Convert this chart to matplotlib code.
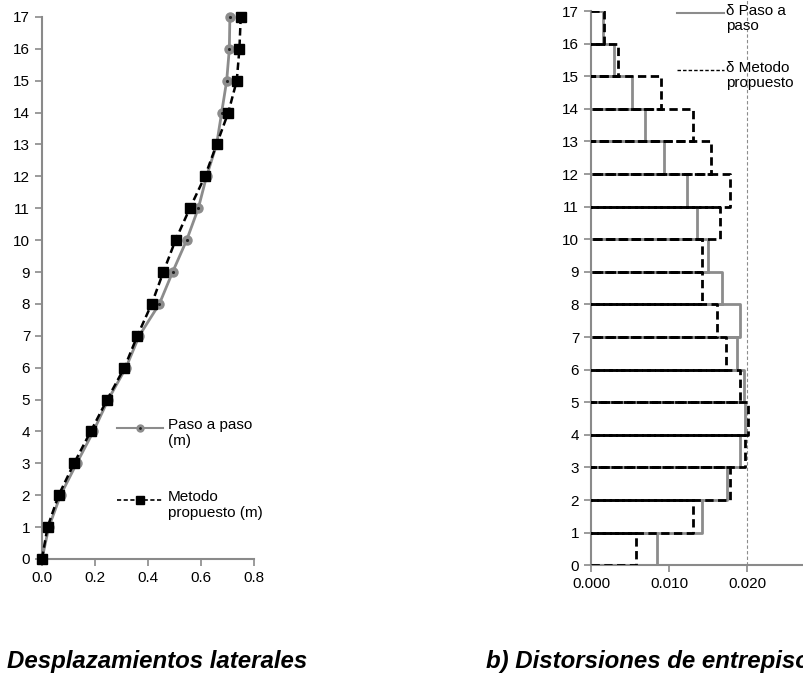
import numpy as np
import matplotlib
matplotlib.use("Agg")
import matplotlib.pyplot as plt

plt.rcParams['font.family'] = ['Liberation Sans', 'DejaVu Sans']

# niveles de piso
niveles = list(range(18))

# desplazamientos laterales (m)
desp_paso = [0.0, 0.026, 0.070, 0.131, 0.194, 0.250, 0.317, 0.367, 0.443,
             0.493, 0.546, 0.590, 0.621, 0.659, 0.678, 0.697, 0.707, 0.709]
desp_metodo = [0.0, 0.021, 0.063, 0.121, 0.184, 0.246, 0.311, 0.360, 0.414,
               0.458, 0.504, 0.558, 0.615, 0.659, 0.703, 0.735, 0.745, 0.750]

# distorsiones de entrepiso, entrepiso i va del nivel i al i+1
dist_paso = [0.0084, 0.0142, 0.0174, 0.0190, 0.0197, 0.0196, 0.0187, 0.0190,
             0.0168, 0.0150, 0.0136, 0.0123, 0.0093, 0.0069, 0.0053, 0.0029,
             0.0015]
dist_metodo = [0.0058, 0.0130, 0.0178, 0.0197, 0.0201, 0.0191, 0.0172, 0.0161,
               0.0142, 0.0142, 0.0165, 0.0178, 0.0153, 0.0131, 0.0090, 0.0034,
               0.0016]
dist_limite = 0.020

GRIS = '#8c8c8c'
EJE = '#8a8a8a'
FS = 11


def escalones(dist):
    xs, ys = [], []
    for i, d in enumerate(dist):
        xs += [0, d, d, 0]
        ys += [i, i, i + 1, i + 1]
    return np.array(xs), np.array(ys)


def estilo_ejes(ax):
    for s in ['top', 'right']:
        ax.spines[s].set_visible(False)
    for s in ['left', 'bottom']:
        ax.spines[s].set_color(EJE)
        ax.spines[s].set_linewidth(1.5)
    ax.tick_params(colors=EJE, labelcolor='black', labelsize=FS,
                   length=5, width=1.2, direction='out')
    ax.set_ylim(0, 17)
    ax.set_yticks(niveles)


fig = plt.figure(figsize=(8.04, 6.75), dpi=100)

# a) desplazamientos
ax1 = fig.add_axes([0.0522, 0.1719, 0.2637, 0.8030])
ax1.plot(desp_paso, niveles, color=GRIS, lw=2, marker='o', ms=6.5,
         mfc=GRIS, mec=GRIS, clip_on=False, zorder=3)
ax1.plot(desp_paso, niveles, ls='none', marker='.', ms=2.5, color='#222222',
         clip_on=False, zorder=4)
ax1.plot(desp_metodo, niveles, color='black', lw=1.8, ls=(0, (3, 1.6)),
         marker='s', ms=7, mfc='black', mec='black', clip_on=False, zorder=5)
ax1.set_xlim(0, 0.8)
ax1.set_xticks([0, 0.2, 0.4, 0.6, 0.8])
ax1.set_xticklabels(['0.0', '0.2', '0.4', '0.6', '0.8'])
estilo_ejes(ax1)

# leyenda a)
ax1.plot([0.354, 0.571], [0.242, 0.242], transform=ax1.transAxes,
         color=GRIS, lw=1.5, clip_on=False)
ax1.plot([0.462], [0.242], transform=ax1.transAxes, marker='o', ms=5,
         color=GRIS, clip_on=False)
ax1.plot([0.462], [0.242], transform=ax1.transAxes, marker='.', ms=2,
         color='#222222', clip_on=False)
ax1.text(0.594, 0.260, 'Paso a paso\n(m)', transform=ax1.transAxes,
         fontsize=FS, va='top', ha='left', linespacing=1.2)
ax1.plot([0.354, 0.571], [0.109, 0.109], transform=ax1.transAxes,
         color='black', lw=1.2, ls=(0, (2.5, 1.5)), clip_on=False)
ax1.plot([0.462], [0.109], transform=ax1.transAxes, marker='s', ms=5.5,
         color='black', clip_on=False)
ax1.text(0.594, 0.127, 'Metodo\npropuesto (m)', transform=ax1.transAxes,
         fontsize=FS, va='top', ha='left', linespacing=1.2)

# b) distorsiones
ax2 = fig.add_axes([0.7351, 0.1625, 0.2918, 0.8212])
xp, yp = escalones(dist_paso)
xm, ym = escalones(dist_metodo)
ax2.plot(xp, yp, color=GRIS, lw=2, zorder=3)
ax2.plot(xm, ym, color='black', lw=2, ls=(0, (3, 1.6)), zorder=4)
ax2.axvline(dist_limite, ymin=0, ymax=1.03, color=GRIS, lw=0.8,
            ls=(0, (3, 2)), clip_on=False, zorder=2)
ax2.set_xlim(0, 0.03)
ax2.set_xticks([0, 0.01, 0.02, 0.03])
ax2.set_xticklabels(['0.000', '0.010', '0.020', ''])
estilo_ejes(ax2)

# leyenda b)
ax2.plot([0.366, 0.567], [0.996, 0.996], transform=ax2.transAxes,
         color=GRIS, lw=1.5, clip_on=False)
ax2.text(0.575, 1.013, 'δ Paso a\npaso', transform=ax2.transAxes,
         fontsize=FS, va='top', ha='left', linespacing=1.1)
ax2.plot([0.366, 0.567], [0.893, 0.893], transform=ax2.transAxes,
         color='black', lw=1.0, ls=(0, (2.5, 1.5)), clip_on=False)
ax2.text(0.575, 0.910, 'δ Metodo\npropuesto', transform=ax2.transAxes,
         fontsize=FS, va='top', ha='left', linespacing=1.1)

# titulos de cada grafica
fig.text(7 / 804, 1 - 668 / 675, 'Desplazamientos laterales',
         fontsize=17.3, fontweight='bold', fontstyle='italic', va='baseline')
fig.text(486 / 804, 1 - 668 / 675, 'b) Distorsiones de entrepiso',
         fontsize=17.3, fontweight='bold', fontstyle='italic', va='baseline')

fig.savefig('out.png', dpi=100)
